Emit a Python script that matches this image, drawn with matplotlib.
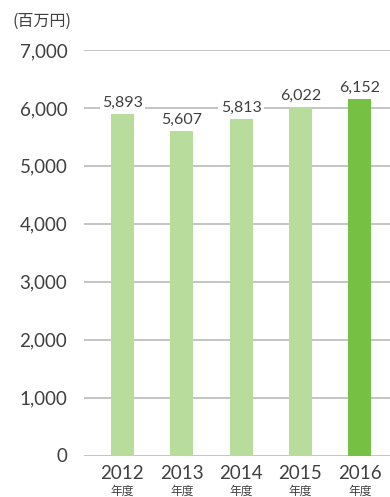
import matplotlib
matplotlib.use("Agg")
import matplotlib.pyplot as plt
from matplotlib.transforms import blended_transform_factory

plt.rcParams['font.family'] = ['Lato', 'Noto Sans CJK JP', 'DejaVu Sans']

years = ["2012", "2013", "2014", "2015", "2016"]
values = [5893, 5607, 5813, 6022, 6152]
yticks = [0, 1000, 2000, 3000, 4000, 5000, 6000, 7000]
unit_label = "(百万円)"
year_suffix = "年度"

light_green = "#b8dc9c"
dark_green = "#76c043"
text_color = "#404040"
grid_color = "#c4c4c4"

fig = plt.figure(figsize=(3.9, 4.97), dpi=100)
ax = fig.add_axes([84/390, 1 - 455.5/497, 306/390, 405.5/497])

x = list(range(len(years)))
colors = [light_green] * (len(years) - 1) + [dark_green]
ax.bar(x, values, width=0.387, color=colors, zorder=2)

ax.set_ylim(0, 7000)
ax.set_xlim(-0.647, 4.51)
ax.set_yticks(yticks)
ax.set_yticklabels([f"{v:,}" for v in yticks], fontsize=13.5, color=text_color)
ax.yaxis.grid(True, color=grid_color, linewidth=1.4, zorder=0)
ax.set_axisbelow(True)
ax.tick_params(axis='y', length=0, pad=12)
ax.tick_params(axis='x', length=0, pad=7)
ax.set_xticks(x)
ax.set_xticklabels(years, fontsize=13.5, color=text_color)
for s in ax.spines.values():
    s.set_visible(False)

# value labels sitting just above each bar, masking the gridline behind them
for xi, v in zip(x, values):
    ax.annotate(f"{v:,}", (xi, v), xytext=(0, 3), textcoords="offset points",
                ha="center", va="bottom", fontsize=11.5, color=text_color,
                bbox=dict(boxstyle="square,pad=0.15", fc="white", ec="none"),
                zorder=3)

# fiscal-year suffix under each year
trans = blended_transform_factory(ax.transData, fig.transFigure)
for xi in x:
    ax.text(xi, 1 - 491/497, year_suffix, transform=trans, ha="center",
            va="center", fontsize=8.5, color=text_color,
            family=['Noto Sans CJK JP'])

fig.text(13/390, 1 - 21/497, unit_label, ha="left", va="center",
         fontsize=11.5, color=text_color, family=['Noto Sans CJK JP'])

fig.savefig("out.png", dpi=100)
